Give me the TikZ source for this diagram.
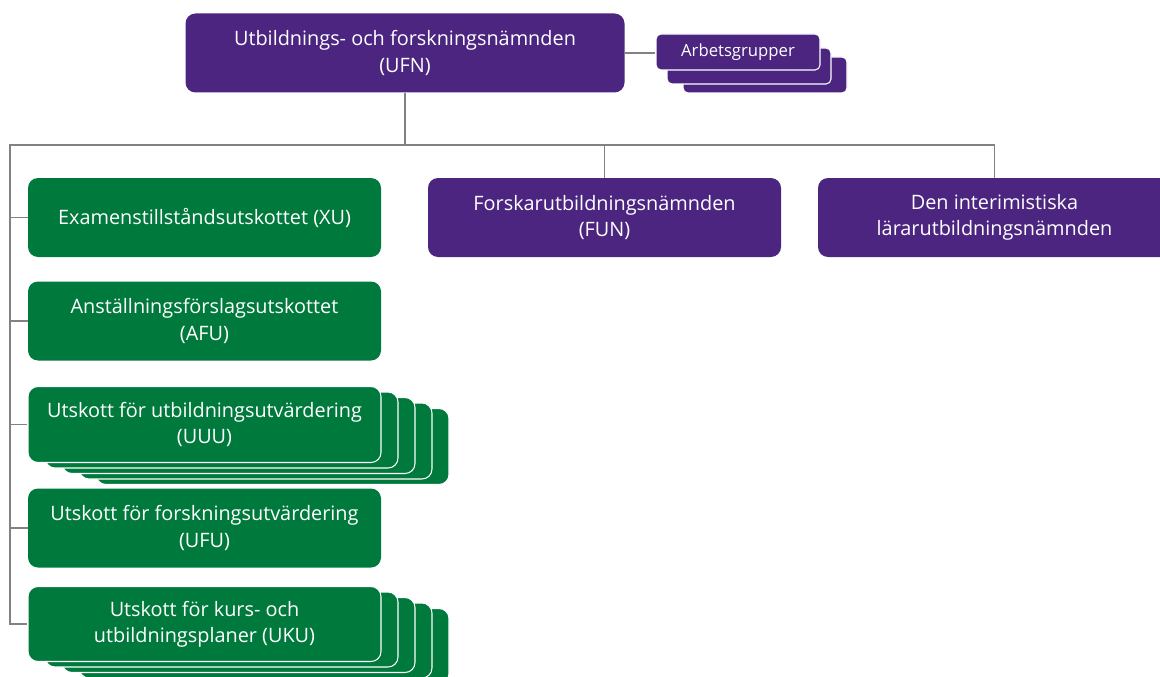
\documentclass[tikz,border=0pt]{standalone}
\usepackage{fontspec}
\setmainfont{Open Sans}
\usetikzlibrary{positioning}
\definecolor{ufnpurple}{RGB}{75,37,128}
\definecolor{ufngreen}{RGB}{0,122,60}
\definecolor{linegray}{RGB}{130,130,130}
\tikzstyle{purplebox} = [rectangle, rounded corners = 0.2cm, minimum width = 7.06cm, minimum height = 1.58cm, inner sep = 0pt, align = center, text = white, fill = ufnpurple, font = \fontsize{11.3}{15}\selectfont]
\tikzstyle{greenbox} = [purplebox, fill = ufngreen]
\tikzstyle{stackgreen} = [greenbox, draw = white, line width = 0.6pt, minimum height = 1.52cm]
\tikzstyle{workbox} = [purplebox, draw = white, line width = 0.6pt, minimum width = 3.28cm, minimum height = 0.72cm, rounded corners = 0.1cm, font = \fontsize{9.5}{11}\selectfont]
\tikzstyle{line} = [draw = linegray, line width = 0.7pt]

\begin{document}
\begin{tikzpicture}[node distance = 2.07cm]
    \useasboundingbox (0,0) rectangle (23.2,-13.54);

    \node(ufn)[purplebox, minimum width = 8.78cm] at (8.1,-1.06){Utbildnings- och forskningsnämnden\\(UFN)};
    \node(ag3)[workbox] at (15.3,-1.5){};
    \node(ag2)[workbox] at (14.98,-1.32){};
    \node(ag1)[workbox] at (14.76,-1.04){Arbetsgrupper};

    \node(fun)[purplebox] at (12.09,-4.35){Forskarutbildningsnämnden\\(FUN)};
    \node(lun)[purplebox] at (19.89,-4.35){Den interimistiska\\lärarutbildningsnämnden};

    \node(xu)[greenbox] at (4.09,-4.35){Examenstillståndsutskottet (XU)};
    \node(afu)[greenbox, below of = xu]{Anställningsförslagsutskottet\\(AFU)};
    \node(uuu4)[stackgreen, below of = afu, xshift = 1.36cm, yshift = -0.44cm]{};
    \node(uuu3)[stackgreen, below of = afu, xshift = 1.02cm, yshift = -0.33cm]{};
    \node(uuu2)[stackgreen, below of = afu, xshift = 0.68cm, yshift = -0.22cm]{};
    \node(uuu1)[stackgreen, below of = afu, xshift = 0.34cm, yshift = -0.11cm]{};
    \node(uuu)[stackgreen, below of = afu]{Utskott för utbildningsutvärdering\\(UUU)};
    \node(ufu)[greenbox, below of = uuu]{Utskott för forskningsutvärdering\\(UFU)};
    \node(uku4)[stackgreen, below of = ufu, xshift = 1.36cm, yshift = -0.29cm, minimum height = 1.5cm]{};
    \node(uku3)[stackgreen, below of = ufu, xshift = 1.02cm, yshift = -0.18cm, minimum height = 1.5cm]{};
    \node(uku2)[stackgreen, below of = ufu, xshift = 0.68cm, yshift = -0.07cm, minimum height = 1.5cm]{};
    \node(uku1)[stackgreen, below of = ufu, xshift = 0.34cm, yshift = 0.04cm, minimum height = 1.5cm]{};
    \node(uku)[stackgreen, below of = ufu, yshift = 0.15cm, minimum height = 1.5cm]{Utskott för kurs- och\\utbildningsplaner (UKU)};

    \coordinate(busL) at (0.2,-2.9);
    \draw[line](ufn.east)--(ufn.east -| ag1.west);
    \draw[line](ufn.south)--(ufn.south |- busL);
    \draw[line](lun.north)|-(busL)|-(uku.west);
    \draw[line](fun.north)--(fun.north |- busL);
    \draw[line](xu.west)--(xu.west -| busL);
    \draw[line](afu.west)--(afu.west -| busL);
    \draw[line](uuu.west)--(uuu.west -| busL);
    \draw[line](ufu.west)--(ufu.west -| busL);
\end{tikzpicture}
\end{document}
